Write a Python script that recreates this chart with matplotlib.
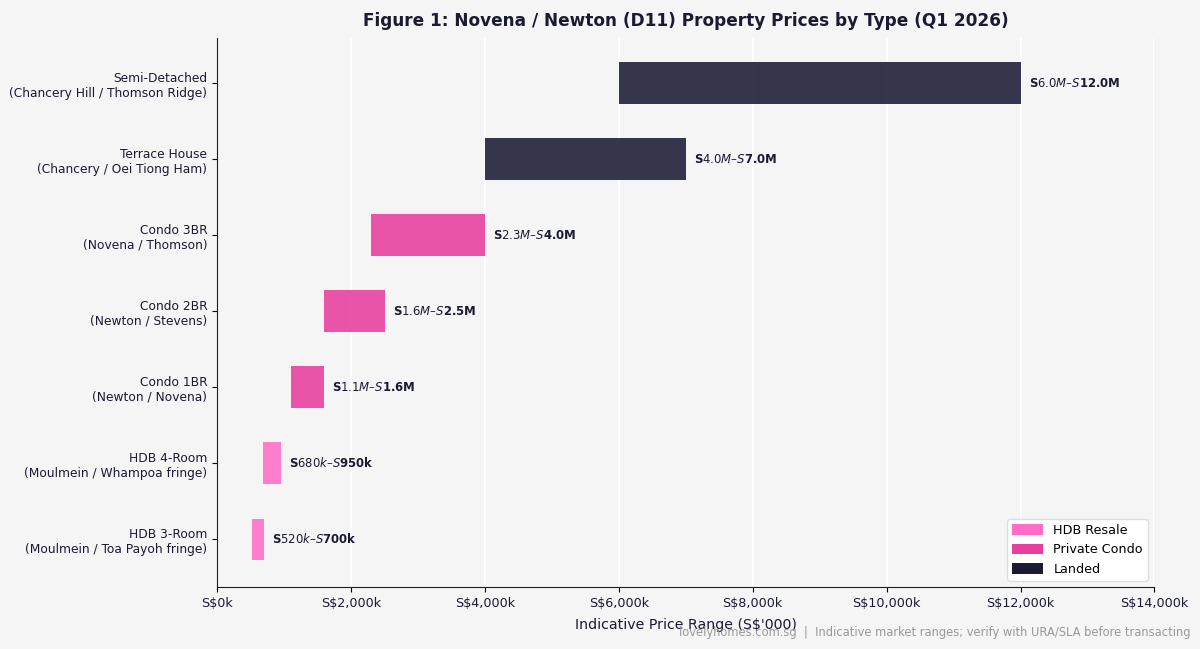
import matplotlib.pyplot as plt
from matplotlib.patches import Patch

# data (S$'000)
categories = ["HDB 3-Room\n(Moulmein / Toa Payoh fringe)",
              "HDB 4-Room\n(Moulmein / Whampoa fringe)",
              "Condo 1BR\n(Newton / Novena)",
              "Condo 2BR\n(Newton / Stevens)",
              "Condo 3BR\n(Novena / Thomson)",
              "Terrace House\n(Chancery / Oei Tiong Ham)",
              "Semi-Detached\n(Chancery Hill / Thomson Ridge)"]
low = [520, 680, 1100, 1600, 2300, 4000, 6000]
high = [700, 950, 1600, 2500, 4000, 7000, 12000]
segment = ["HDB Resale", "HDB Resale", "Private Condo", "Private Condo",
           "Private Condo", "Landed", "Landed"]
labels = ["S$520k–S$700k", "S$680k–S$950k", "S$1.1M–S$1.6M", "S$1.6M–S$2.5M",
          "S$2.3M–S$4.0M", "S$4.0M–S$7.0M", "S$6.0M–S$12.0M"]

colors = {"HDB Resale": "#ff6ec7", "Private Condo": "#e83e9f", "Landed": "#1a1a33"}
bg = "#f5f5f5"
ink = "#1a1a33"

fig, ax = plt.subplots(figsize=(12, 6.49), dpi=100)
fig.patch.set_facecolor(bg)
ax.set_facecolor(bg)

for i in range(len(categories)):
    ax.barh(i, high[i] - low[i], left=low[i], height=0.55,
            color=colors[segment[i]], alpha=0.88, zorder=3)
    ax.text(high[i] + 120, i, labels[i], va="center", ha="left",
            fontsize=8.4, fontweight="bold", color=ink, zorder=4)

ax.set_yticks(range(len(categories)))
ax.set_yticklabels(categories, fontsize=8.8, color=ink)
ax.set_xlim(0, 14000)
ax.set_ylim(-0.63, 6.59)
xt = list(range(0, 14001, 2000))
ax.set_xticks(xt)
ax.set_xticklabels(["S\\$%sk" % format(v, ",") for v in xt], fontsize=9.2, color=ink)
ax.set_xlabel("Indicative Price Range (S$'000)", fontsize=10.2, color=ink, labelpad=6)
ax.set_title("Figure 1: Novena / Newton (D11) Property Prices by Type (Q1 2026)",
             fontsize=12.2, fontweight="bold", color=ink, pad=9)

ax.grid(axis="x", color="white", linewidth=1.2, zorder=0)
for s in ["top", "right"]:
    ax.spines[s].set_visible(False)
ax.spines["left"].set_color(ink)
ax.spines["bottom"].set_color(ink)

handles = [Patch(facecolor=colors[k], label=k) for k in colors]
ax.legend(handles=handles, loc="lower right", fontsize=9.2, framealpha=1,
          facecolor="white", edgecolor="#dddddd", handlelength=2.4, handleheight=0.9)

fig.text(0.992, 0.015, "lovelyhomes.com.sg  |  Indicative market ranges; verify with URA/SLA before transacting",
         ha="right", va="bottom", fontsize=8.3, color="#999999")

plt.subplots_adjust(left=0.181, right=0.962, top=0.941, bottom=0.095)
fig.savefig("out.png", dpi=100, facecolor=bg)
